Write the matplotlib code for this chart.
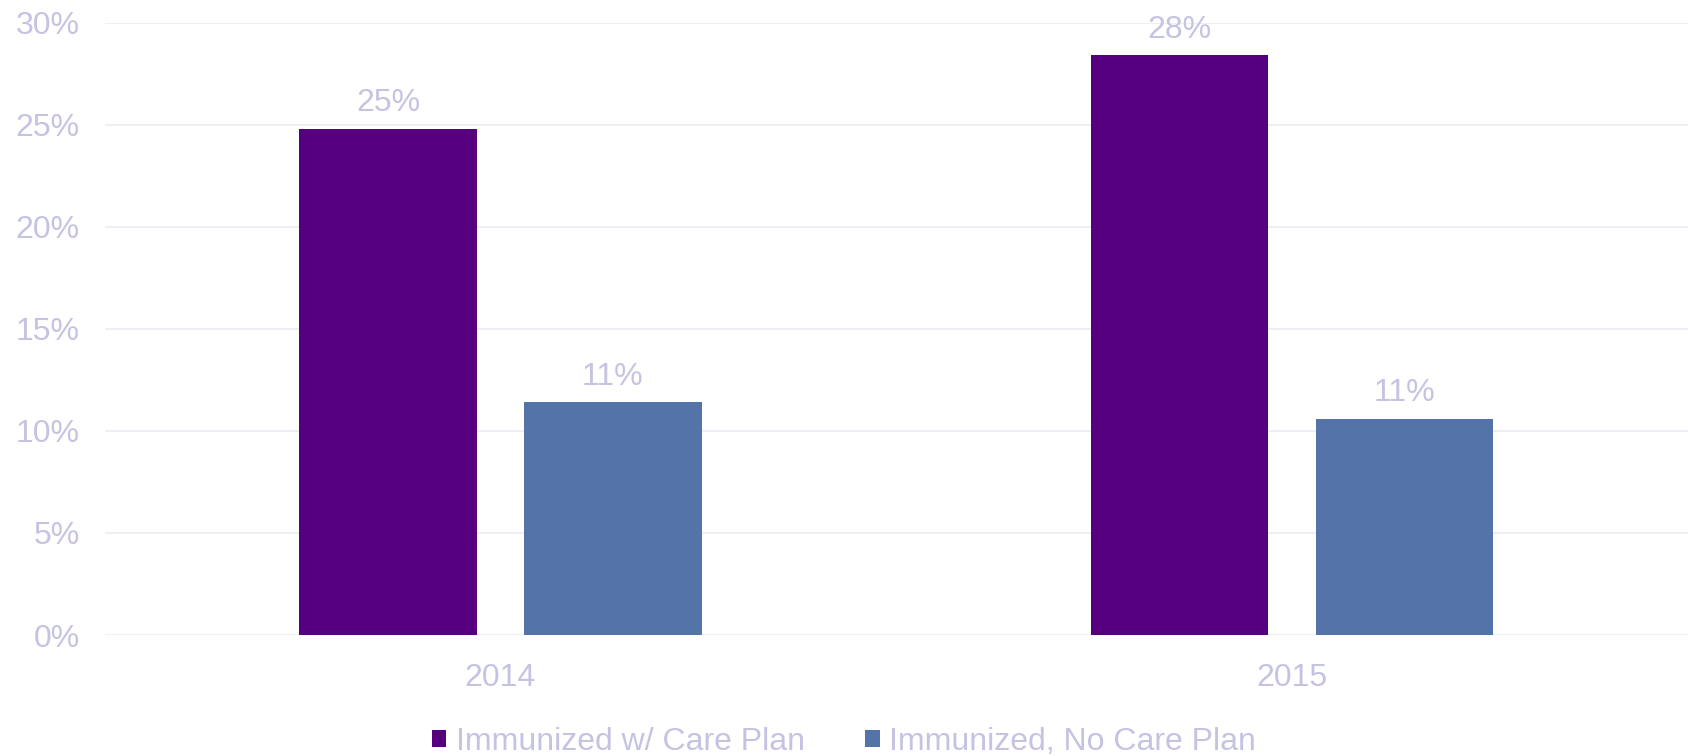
import numpy as np
import matplotlib
matplotlib.use("Agg")
import matplotlib.pyplot as plt
from matplotlib.ticker import PercentFormatter

# -------------------------
# Data
# -------------------------
years = ["2014", "2015"]
series_names = ["Immunized w/ Care Plan", "Immunized, No Care Plan"]
with_plan = [0.248, 0.284]
no_plan = [0.114, 0.106]
y_ticks = [0, 0.05, 0.10, 0.15, 0.20, 0.25, 0.30]

colors = ["#56007F", "#5473A8"]
text_color = "#C5C3E2"
grid_color = "#EFEEF5"
fs = 23

plt.rcParams["font.family"] = ["Liberation Sans", "DejaVu Sans"]

fig = plt.figure(figsize=(16.88, 7.56), dpi=100)
ax = fig.add_axes([0.062, 0.16, 0.938, 0.81])

x = np.arange(len(years))
width = 0.224
offset = 0.142

bars = []
for vals, off, color, name in zip([with_plan, no_plan], [-offset, offset], colors, series_names):
    b = ax.bar(x + off, vals, width, color=color, label=name, zorder=3)
    bars.append(b)
    for rect, v in zip(b, vals):
        ax.annotate(f"{v * 100:.0f}%",
                    (rect.get_x() + rect.get_width() / 2, v),
                    xytext=(0, 7.5), textcoords="offset points",
                    ha="center", va="bottom", fontsize=fs, color=text_color)

ax.set_xlim(-0.5, 1.5)
ax.set_ylim(0, 0.30)
ax.set_xticks(x)
ax.set_xticklabels(years)
ax.set_yticks(y_ticks)
ax.yaxis.set_major_formatter(PercentFormatter(1.0, decimals=0))

ax.tick_params(axis="both", length=0, labelsize=fs, labelcolor=text_color)
ax.tick_params(axis="y", pad=18)
ax.tick_params(axis="x", pad=20)

ax.grid(axis="y", color=grid_color, linewidth=1.5, zorder=0)
for side in ["top", "right", "left", "bottom"]:
    ax.spines[side].set_visible(False)

leg = fig.legend(handles=bars, labels=series_names, loc="center",
                 bbox_to_anchor=(0.5, 0.019), ncol=2, frameon=False,
                 fontsize=fs, handlelength=0.45, handleheight=0.45,
                 handletextpad=0.3, columnspacing=1.9)
for t in leg.get_texts():
    t.set_color(text_color)

fig.savefig("out.png", dpi=100)
